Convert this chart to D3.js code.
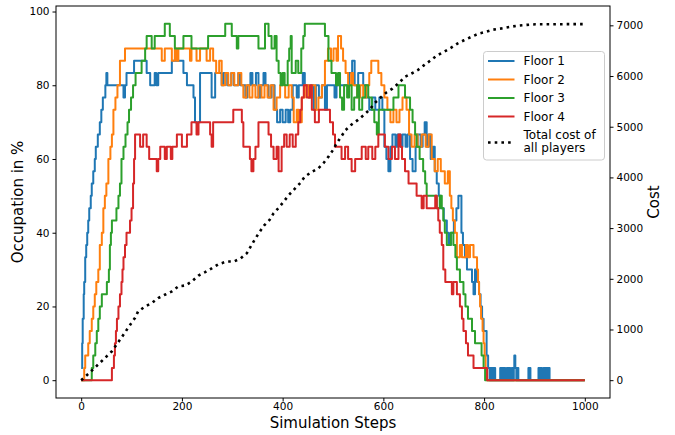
<!DOCTYPE html>
<html>
<head>
<meta charset="utf-8">
<script src="https://d3js.org/d3.v7.min.js"></script>
<style>
body { margin: 0; background: #fff; }
svg text { font-family: "DejaVu Sans", sans-serif; fill: #000; }
</style>
</head>
<body>
<div id="chart"></div>
<script>
// occupied rooms per floor (out of 30), [step, rooms] at each change
var capacity = 30;

var floor1 = [[0,1],[2,3],[3,5],[5,7],[6,8],[8,10],[10,11],[12,12],[14,13],[16,14],[19,15],[21,16],[24,17],[27,18],[29,19],[33,20],[37,21],[40,22],[43,23],[48,24],[50,25],[52,24],[84,23],[87,24],[90,25],[105,26],[130,25],[137,24],[146,25],[149,24],[153,25],[180,26],[203,25],[210,24],[223,23],[226,21],[236,25],[259,23],[266,25],[279,24],[283,25],[290,24],[298,25],[303,24],[312,25],[316,24],[326,23],[330,24],[336,25],[340,24],[347,25],[352,23],[356,24],[362,25],[366,24],[372,23],[378,24],[384,22],[389,21],[395,22],[400,21],[406,22],[411,21],[415,22],[420,24],[428,23],[432,24],[440,25],[444,24],[452,23],[456,24],[462,22],[466,24],[472,23],[478,24],[484,22],[488,24],[503,23],[507,24],[532,25],[538,26],[543,24],[550,25],[560,24],[566,23],[572,22],[578,23],[584,22],[592,23],[598,22],[602,19],[606,18],[610,17],[614,19],[618,20],[624,19],[628,20],[634,19],[638,20],[644,19],[648,20],[653,18],[658,17],[664,19],[668,20],[674,19],[678,20],[682,21],[686,19],[690,20],[694,18],[698,19],[702,17],[706,16],[710,15],[714,14],[720,13],[726,12],[730,11],[734,12],[740,13],[745,14],[749,15],[755,12],[758,11],[762,10],[766,9],[776,8],[779,7],[782,9],[786,8],[790,7],[793,6],[796,5],[799,4],[805,2],[808,1],[811,0],
  [812,1],[813,0],[814,1],[815,0],[816,1],[817,0],[818,1],[819,0],[820,1],[822,0],
  [832,1],[833,0],[834,1],[835,0],[836,1],[837,0],[838,1],[839,0],[840,1],[842,0],
  [845,1],[846,0],[847,1],[848,0],[849,1],[850,0],[851,1],[852,0],
  [855,1],[856,0],[857,1],[858,0],[859,1],[860,2],[862,1],[864,0],[865,1],[866,0],[867,1],[868,0],
  [888,1],[889,0],[890,1],[892,0],
  [908,1],[909,0],[910,1],[911,0],[912,1],[913,0],[914,1],[915,0],
  [918,1],[919,0],[920,1],[921,0],[922,1],[924,0],
  [926,1],[927,0],[928,1],[930,0],[1000,0]];

var floor2 = [[0,0],[6,1],[8,2],[14,3],[17,4],[21,5],[24,6],[27,7],[30,8],[34,9],[37,11],[41,12],[44,14],[47,15],[50,16],[54,18],[58,19],[61,20],[64,22],[68,23],[72,24],[77,26],[87,27],[160,26],[166,27],[180,26],[186,27],[190,26],[193,27],[216,26],[219,27],[229,26],[236,27],[249,26],[256,27],[262,26],[268,25],[274,26],[279,24],[286,25],[292,24],[298,25],[304,24],[312,25],[318,24],[322,23],[328,24],[334,23],[340,24],[346,23],[352,24],[358,23],[364,24],[370,23],[376,24],[382,22],[388,23],[395,24],[405,23],[412,24],[418,23],[422,21],[428,22],[432,21],[438,23],[444,24],[452,23],[458,24],[465,22],[471,23],[478,24],[484,26],[490,27],[496,26],[501,27],[507,26],[510,28],[516,27],[520,26],[525,25],[530,24],[536,25],[540,24],[548,23],[554,24],[560,23],[566,24],[572,25],[576,26],[590,25],[596,24],[602,23],[608,22],[614,21],[620,22],[626,21],[632,22],[638,23],[646,22],[651,20],[656,19],[662,20],[668,19],[676,20],[684,19],[690,20],[696,18],[702,17],[708,18],[714,17],[722,16],[728,17],[732,15],[735,14],[738,13],[742,12],[746,10],[752,11],[756,10],[764,11],[768,10],[772,11],[779,10],[786,9],[788,8],[790,7],[792,6],[794,5],[797,4],[799,3],[801,2],[803,1],[806,0],[1000,0]];

var floor3 = [[0,0],[21,1],[24,2],[28,3],[31,4],[34,5],[37,6],[41,7],[51,8],[55,9],[57,11],[59,12],[61,13],[70,14],[74,15],[77,16],[80,18],[84,19],[88,20],[92,21],[95,22],[99,23],[103,24],[108,25],[120,26],[127,27],[130,28],[140,27],[146,28],[166,29],[176,28],[186,27],[203,28],[219,27],[252,28],[286,29],[299,28],[309,27],[312,28],[352,27],[365,29],[372,28],[378,27],[384,28],[388,26],[392,25],[396,24],[400,25],[404,24],[410,26],[413,27],[416,28],[418,25],[426,26],[431,25],[437,27],[441,28],[444,29],[484,28],[491,26],[497,25],[506,24],[510,25],[514,23],[518,22],[522,24],[528,23],[532,24],[537,22],[542,23],[548,24],[552,22],[558,23],[564,24],[570,23],[577,22],[582,21],[587,20],[591,22],[620,23],[630,24],[643,23],[653,22],[658,21],[663,20],[666,19],[672,18],[679,17],[683,16],[686,15],[706,14],[712,15],[716,14],[719,13],[722,12],[726,11],[734,12],[739,11],[743,10],[746,9],[752,8],[759,7],[763,6],[768,5],[776,4],[782,3],[795,2],[799,1],[802,0],[1000,0]];

var floor4 = [[0,0],[61,1],[65,2],[67,3],[69,4],[71,5],[74,6],[77,7],[80,8],[82,9],[84,10],[87,11],[90,12],[97,13],[100,14],[103,16],[105,18],[107,20],[117,19],[123,20],[130,19],[135,18],[150,17],[153,18],[157,19],[166,18],[170,19],[178,18],[181,19],[190,20],[200,19],[210,20],[219,21],[229,20],[233,21],[256,20],[259,19],[262,21],[302,22],[319,21],[322,19],[335,18],[338,17],[342,18],[346,19],[352,21],[372,20],[377,19],[382,18],[388,19],[392,17],[398,19],[403,20],[408,19],[414,20],[420,19],[426,20],[431,21],[435,22],[438,23],[442,24],[448,23],[454,24],[458,22],[464,21],[472,22],[494,21],[500,20],[504,19],[517,18],[524,19],[530,18],[537,17],[544,18],[557,19],[565,18],[570,19],[578,18],[584,19],[590,20],[603,19],[610,18],[617,19],[623,18],[630,20],[634,19],[637,18],[643,17],[650,16],[666,15],[676,14],[680,15],[686,14],[703,15],[706,14],[709,13],[712,12],[716,11],[719,9],[723,8],[736,7],[739,8],[746,7],[752,6],[756,5],[759,4],[764,3],[768,2],[779,1],[806,0],[1000,0]];

// total cost of all players, [step, cost]
var totalCost = [[0,0],[17,150],[37,340],[61,570],[70,700],[80,840],[97,1090],[107,1230],[113,1355],[127,1455],[140,1520],[153,1620],[166,1685],[180,1750],[193,1850],[208,1870],[221,1960],[233,2065],[246,2130],[260,2210],[273,2290],[289,2340],[303,2340],[317,2405],[329,2505],[345,2780],[354,2920],[363,3050],[374,3160],[382,3290],[393,3410],[403,3535],[413,3660],[423,3765],[435,3890],[444,4015],[458,4110],[471,4180],[481,4280],[491,4410],[500,4540],[507,4670],[516,4800],[525,4935],[537,5045],[549,5130],[561,5230],[573,5340],[582,5460],[594,5570],[606,5675],[618,5750],[630,5855],[643,5985],[656,6050],[668,6115],[681,6215],[694,6310],[707,6410],[720,6475],[734,6555],[747,6640],[760,6705],[774,6770],[789,6835],[803,6870],[818,6915],[835,6940],[852,6970],[868,6995],[885,7010],[902,7020],[1000,7025]];

var seriesNames = ["Floor 1", "Floor 2", "Floor 3", "Floor 4"];
var seriesColors = ["#1f77b4", "#ff7f0e", "#2ca02c", "#d62728"];
var costName = ["Total cost of", "all players"];
var xTicks = [0, 200, 400, 600, 800, 1000];
var occTicks = [0, 20, 40, 60, 80, 100];
var costTicks = [0, 1000, 2000, 3000, 4000, 5000, 6000, 7000];

var width = 675, height = 435;
// plot box (note: "top" is a reserved window property, so use plot* names)
var plotLeft = 56, plotRight = 610, plotTop = 6, plotBottom = 398;

var x = d3.scaleLinear().domain([-50, 1050]).range([plotLeft, plotRight]);
var yOcc = d3.scaleLinear().domain([-4.83, 101.5]).range([plotBottom, plotTop]);
var yCost = d3.scaleLinear().domain([-351.5, 7381.5]).range([plotBottom, plotTop]);

var svg = d3.select("#chart").append("svg")
	.attr("width", width)
	.attr("height", height);

svg.append("rect").attr("width", width).attr("height", height).attr("fill", "#fff");

var occLine = d3.line()
	.x(function(d) { return x(d[0]); })
	.y(function(d) { return yOcc(d[1] / capacity * 100); })
	.curve(d3.curveStepAfter);

var costLine = d3.line()
	.x(function(d) { return x(d[0]); })
	.y(function(d) { return yCost(d[1]); });

var floors = [floor1, floor2, floor3, floor4];
svg.append("g").selectAll("path")
	.data(floors)
	.enter()
	.append("path")
	.attr("d", occLine)
	.attr("fill", "none")
	.attr("stroke", function(d, i) { return seriesColors[i]; })
	.attr("stroke-width", 2)
	.attr("stroke-linejoin", "round");

svg.append("path")
	.datum(totalCost)
	.attr("d", costLine)
	.attr("fill", "none")
	.attr("stroke", "#000")
	.attr("stroke-width", 2.6)
	.attr("stroke-dasharray", "2.6,4.1");

// frame
svg.append("rect")
	.attr("x", plotLeft).attr("y", plotTop)
	.attr("width", plotRight - plotLeft).attr("height", plotBottom - plotTop)
	.attr("fill", "none")
	.attr("stroke", "#000")
	.attr("stroke-width", 1);

var gx = svg.append("g")
	.attr("transform", "translate(0," + plotBottom + ")")
	.call(d3.axisBottom(x).tickValues(xTicks).tickSize(3.5).tickPadding(1.5).tickFormat(d3.format("d")));
var gl = svg.append("g")
	.attr("transform", "translate(" + plotLeft + ",0)")
	.call(d3.axisLeft(yOcc).tickValues(occTicks).tickSize(3.5).tickPadding(3).tickFormat(d3.format("d")));
var gr = svg.append("g")
	.attr("transform", "translate(" + plotRight + ",0)")
	.call(d3.axisRight(yCost).tickValues(costTicks).tickSize(3.5).tickPadding(3).tickFormat(d3.format("d")));

[gx, gl, gr].forEach(function(g) {
	g.select(".domain").remove();
	g.selectAll("text").attr("font-size", "10.5px").attr("font-family", "DejaVu Sans, sans-serif").attr("fill", "#000");
	g.selectAll("line").attr("stroke", "#000");
});

svg.append("text")
	.attr("x", (plotLeft + plotRight) / 2)
	.attr("y", 428)
	.attr("text-anchor", "middle")
	.attr("font-size", "15px")
	.text("Simulation Steps");

svg.append("text")
	.attr("transform", "translate(23," + ((plotTop + plotBottom) / 2) + ") rotate(-90)")
	.attr("text-anchor", "middle")
	.attr("font-size", "15px")
	.text("Occupation in %");

svg.append("text")
	.attr("transform", "translate(659," + ((plotTop + plotBottom) / 2) + ") rotate(-90)")
	.attr("text-anchor", "middle")
	.attr("font-size", "15px")
	.text("Cost");

// legend
var lg = svg.append("g").attr("transform", "translate(483.5,51.5)");
lg.append("rect")
	.attr("width", 121).attr("height", 108.5)
	.attr("rx", 3)
	.attr("fill", "#fff").attr("fill-opacity", 0.8)
	.attr("stroke", "#ccc").attr("stroke-width", 1);

var rowY = [9.5, 28, 46.5, 65];
seriesNames.forEach(function(name, i) {
	lg.append("line")
		.attr("x1", 4.5).attr("x2", 31)
		.attr("y1", rowY[i]).attr("y2", rowY[i])
		.attr("stroke", seriesColors[i]).attr("stroke-width", 2);
	lg.append("text")
		.attr("x", 40).attr("y", rowY[i] + 4.3)
		.attr("font-size", "12px")
		.text(name);
});
lg.append("line")
	.attr("x1", 4.5).attr("x2", 31)
	.attr("y1", 91).attr("y2", 91)
	.attr("stroke", "#000").attr("stroke-width", 2.6)
	.attr("stroke-dasharray", "2.6,4.1");
lg.append("text").attr("x", 40).attr("y", 87).attr("font-size", "12px").text(costName[0]);
lg.append("text").attr("x", 40).attr("y", 100.5).attr("font-size", "12px").text(costName[1]);
</script>
</body>
</html>
